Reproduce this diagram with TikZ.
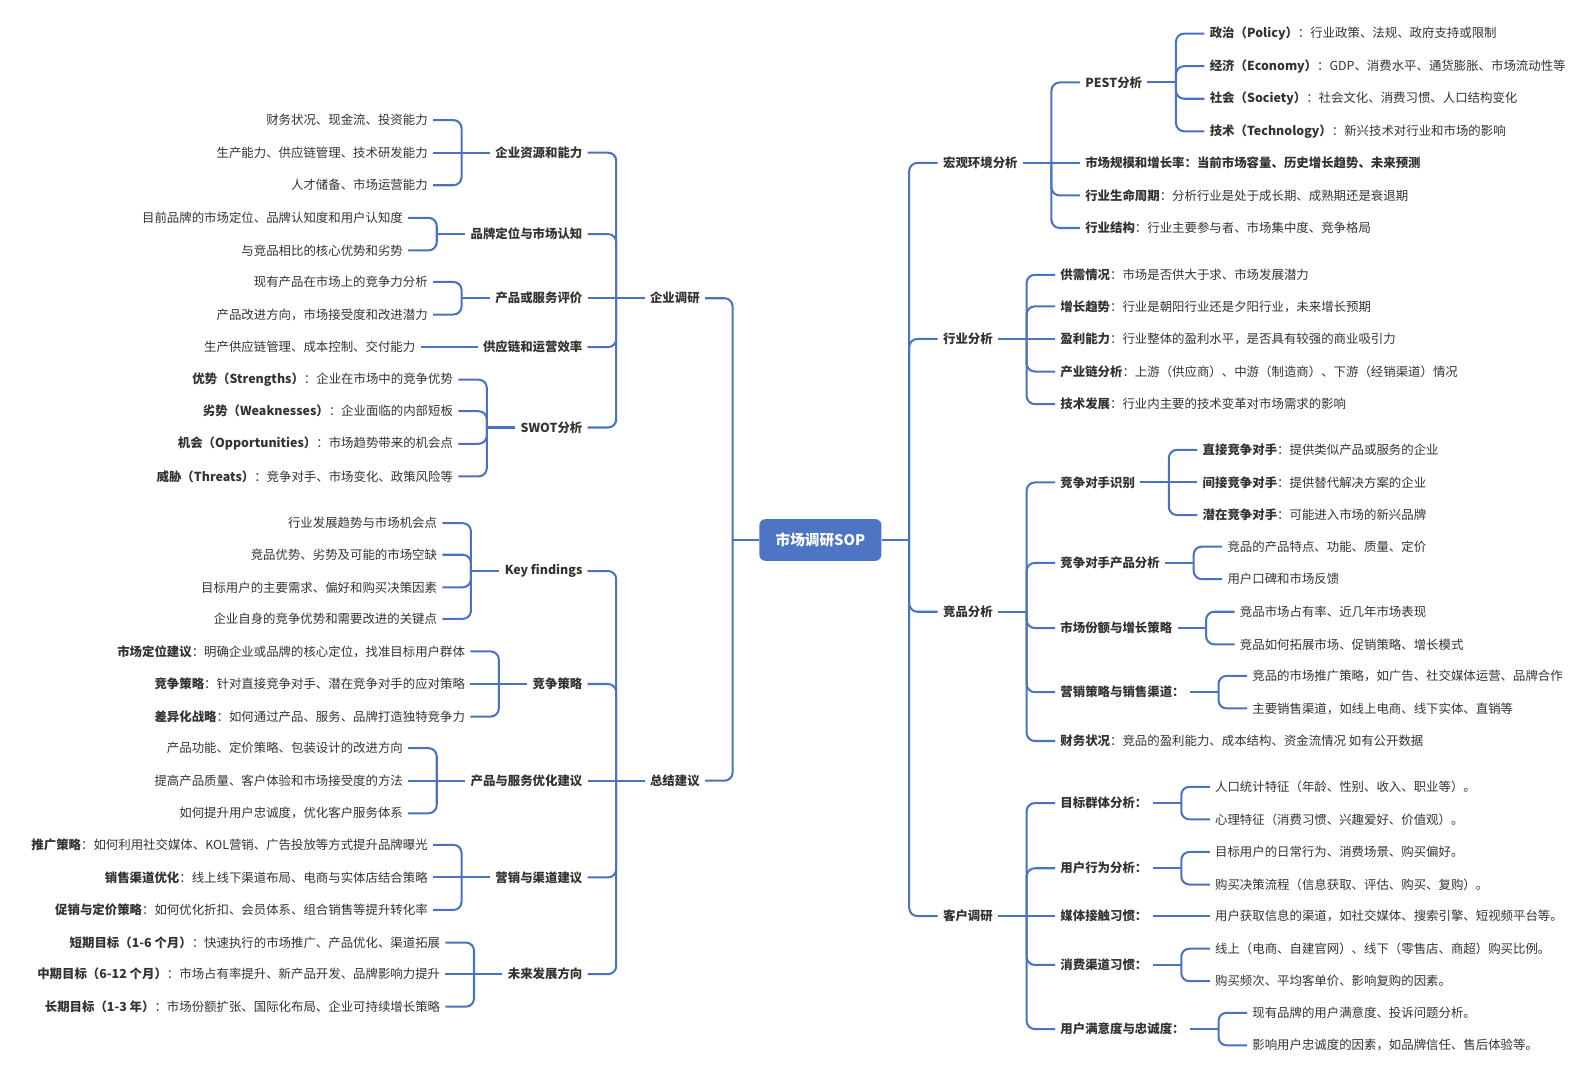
\documentclass[tikz,border=0pt]{standalone}
\usepackage{fontspec}
\setmainfont{Noto Sans CJK SC}
\definecolor{linec}{HTML}{4A72C2}
\definecolor{rootc}{HTML}{4E75C3}
\definecolor{txt}{HTML}{333333}
\newcommand\mmR[1]{\path (#1.east) ++(28,0) coordinate (#1j) ++(28,0) coordinate (#1k); \draw[conn] (#1.east) -- (#1j);}
\newcommand\mmL[1]{\path (#1.west) ++(-28,0) coordinate (#1j) ++(-28,0) coordinate (#1k); \draw[conn] (#1.west) -- (#1j);}
\newcommand\rc[5]{\node[rgt,#4] (#2) at (#1k |- 0,#3) {#5}; \draw[br] (#1j) |- (#2.west);}
\newcommand\lc[5]{\node[lft,#4] (#2) at (#1k |- 0,#3) {#5}; \draw[br] (#1j) |- (#2.east);}
\newcommand\rcs[5]{\node[rgt,#4] (#2) at (#1k |- 0,#3) {#5}; \draw[conn] (#1j) -- (#2.west);}
\newcommand\lcs[5]{\node[lft,#4] (#2) at (#1k |- 0,#3) {#5}; \draw[conn] (#1j) -- (#2.east);}
\begin{document}
\begin{tikzpicture}[x=0.75pt,y=-0.75pt,
  every node/.style={font=\fontsize{9.15pt}{11pt}\selectfont, text=txt, inner xsep=3.75pt, inner ysep=2pt},
  lft/.style={anchor=east},
  rgt/.style={anchor=west},
  hd/.style={font=\fontsize{9.15pt}{11pt}\selectfont\bfseries},
  nb/.style={},
  conn/.style={draw=linec, line width=1.5pt},
  br/.style={conn, rounded corners=6pt},
  rootbox/.style={fill=rootc, rounded corners=4.5pt, text=white, font=\fontsize{10.8pt}{13pt}\selectfont\bfseries, minimum width=90pt, minimum height=30.75pt, inner sep=0pt}
]
\useasboundingbox (0,0) rectangle (1568,1061);
\node[rootbox] (root) at (806,530.5) {市场调研SOP};

% ---------- right side ----------
\path (root.east) ++(27,0) coordinate (rootj) ++(28,0) coordinate (rootk);
\draw[conn] (root.east) -- (rootj);
\rc{root}{a}{160}{hd}{宏观环境分析}
\rc{root}{b}{333}{hd}{行业分析}
\rc{root}{c}{601}{hd}{竞品分析}
\rc{root}{d}{900}{hd}{客户调研}

\mmR{a}
\rc{a}{a1}{81}{hd}{PEST分析}
\rcs{a}{a2}{160}{hd}{市场规模和增长率：当前市场容量、历史增长趋势、未来预测}
\rc{a}{a3}{192}{nb}{{\bfseries 行业生命周期}：分析行业是处于成长期、成熟期还是衰退期}
\rc{a}{a4}{224}{nb}{{\bfseries 行业结构}：行业主要参与者、市场集中度、竞争格局}
\mmR{a1}
\rc{a1}{a11}{33}{nb}{{\bfseries 政治（Policy）}：行业政策、法规、政府支持或限制}
\rc{a1}{a12}{65}{nb}{{\bfseries 经济（Economy）}：GDP、消费水平、通货膨胀、市场流动性等}
\rc{a1}{a13}{97}{nb}{{\bfseries 社会（Society）}：社会文化、消费习惯、人口结构变化}
\rc{a1}{a14}{129}{nb}{{\bfseries 技术（Technology）}：新兴技术对行业和市场的影响}

\mmR{b}
\rc{b}{b1}{270}{nb}{{\bfseries 供需情况}：市场是否供大于求、市场发展潜力}
\rc{b}{b2}{301}{nb}{{\bfseries 增长趋势}：行业是朝阳行业还是夕阳行业，未来增长预期}
\rcs{b}{b3}{333}{nb}{{\bfseries 盈利能力}：行业整体的盈利水平，是否具有较强的商业吸引力}
\rc{b}{b4}{365}{nb}{{\bfseries 产业链分析}：上游（供应商）、中游（制造商）、下游（经销渠道）情况}
\rc{b}{b5}{397}{nb}{{\bfseries 技术发展}：行业内主要的技术变革对市场需求的影响}

\mmR{c}
\rc{c}{c1}{474}{hd}{竞争对手识别}
\rc{c}{c2}{553}{hd}{竞争对手产品分析}
\rc{c}{c3}{617}{hd}{市场份额与增长策略}
\rc{c}{c4}{680}{hd}{营销策略与销售渠道：}
\rc{c}{c5}{728}{nb}{{\bfseries 财务状况}：竞品的盈利能力、成本结构、资金流情况 如有公开数据}
\mmR{c1}
\rc{c1}{c11}{442}{nb}{{\bfseries 直接竞争对手}：提供类似产品或服务的企业}
\rcs{c1}{c12}{474}{nb}{{\bfseries 间接竞争对手}：提供替代解决方案的企业}
\rc{c1}{c13}{506}{nb}{{\bfseries 潜在竞争对手}：可能进入市场的新兴品牌}
\mmR{c2}
\rc{c2}{c21}{537}{nb}{竞品的产品特点、功能、质量、定价}
\rc{c2}{c22}{569}{nb}{用户口碑和市场反馈}
\mmR{c3}
\rc{c3}{c31}{601}{nb}{竞品市场占有率、近几年市场表现}
\rc{c3}{c32}{633}{nb}{竞品如何拓展市场、促销策略、增长模式}
\mmR{c4}
\rc{c4}{c41}{664}{nb}{竞品的市场推广策略，如广告、社交媒体运营、品牌合作}
\rc{c4}{c42}{696}{nb}{主要销售渠道，如线上电商、线下实体、直销等}

\mmR{d}
\rc{d}{d1}{789}{hd}{目标群体分析：}
\rc{d}{d2}{853}{hd}{用户行为分析：}
\rcs{d}{d3}{900}{hd}{媒体接触习惯：}
\rc{d}{d4}{948}{hd}{消费渠道习惯：}
\rc{d}{d5}{1011}{hd}{用户满意度与忠诚度：}
\mmR{d1}
\rc{d1}{d11}{773}{nb}{人口统计特征（年龄、性别、收入、职业等）。}
\rc{d1}{d12}{805}{nb}{心理特征（消费习惯、兴趣爱好、价值观）。}
\mmR{d2}
\rc{d2}{d21}{837}{nb}{目标用户的日常行为、消费场景、购买偏好。}
\rc{d2}{d22}{869}{nb}{购买决策流程（信息获取、评估、购买、复购）。}
\mmR{d3}
\rcs{d3}{d31}{900}{nb}{用户获取信息的渠道，如社交媒体、搜索引擎、短视频平台等。}
\mmR{d4}
\rc{d4}{d41}{932}{nb}{线上（电商、自建官网）、线下（零售店、商超）购买比例。}
\rc{d4}{d42}{964}{nb}{购买频次、平均客单价、影响复购的因素。}
\mmR{d5}
\rc{d5}{d51}{995}{nb}{现有品牌的用户满意度、投诉问题分析。}
\rc{d5}{d52}{1027}{nb}{影响用户忠诚度的因素，如品牌信任、售后体验等。}

% ---------- left side ----------
\path (root.west) ++(-26,0) coordinate (rootlj) ++(-27,0) coordinate (rootlk);
\draw[conn] (root.west) -- (rootlj);
\node[lft,hd] (e) at (rootlk |- 0,293) {企业调研};
\draw[br] (rootlj) |- (e.east);
\node[lft,hd] (f) at (rootlk |- 0,767) {总结建议};
\draw[br] (rootlj) |- (f.east);

\mmL{e}
\lc{e}{e1}{150}{hd}{企业资源和能力}
\lc{e}{e2}{230}{hd}{品牌定位与市场认知}
\lcs{e}{e3}{293}{hd}{产品或服务评价}
\lc{e}{e4}{341}{hd}{供应链和运营效率}
\lc{e}{e5}{420}{hd}{SWOT分析}
\mmL{e1}
\lc{e1}{e11}{118}{nb}{财务状况、现金流、投资能力}
\lcs{e1}{e12}{150}{nb}{生产能力、供应链管理、技术研发能力}
\lc{e1}{e13}{182}{nb}{人才储备、市场运营能力}
\mmL{e2}
\lc{e2}{e21}{214}{nb}{目前品牌的市场定位、品牌认知度和用户认知度}
\lc{e2}{e22}{246}{nb}{与竞品相比的核心优势和劣势}
\mmL{e3}
\lc{e3}{e31}{277}{nb}{现有产品在市场上的竞争力分析}
\lc{e3}{e32}{309}{nb}{产品改进方向，市场接受度和改进潜力}
\mmL{e4}
\lcs{e4}{e41}{341}{nb}{生产供应链管理、成本控制、交付能力}
\mmL{e5}
\lc{e5}{e51}{373}{nb}{{\bfseries 优势（Strengths）}：企业在市场中的竞争优势}
\lc{e5}{e52}{404}{nb}{{\bfseries 劣势（Weaknesses）}：企业面临的内部短板}
\lc{e5}{e53}{436}{nb}{{\bfseries 机会（Opportunities）}：市场趋势带来的机会点}
\lc{e5}{e54}{468}{nb}{{\bfseries 威胁（Threats）}：竞争对手、市场变化、政策风险等}

\mmL{f}
\lc{f}{f1}{561}{hd}{Key findings}
\lc{f}{f2}{672}{hd}{竞争策略}
\lcs{f}{f3}{767}{hd}{产品与服务优化建议}
\lc{f}{f4}{862}{hd}{营销与渠道建议}
\lc{f}{f5}{957}{hd}{未来发展方向}
\mmL{f1}
\lc{f1}{f11}{514}{nb}{行业发展趋势与市场机会点}
\lc{f1}{f12}{545}{nb}{竞品优势、劣势及可能的市场空缺}
\lc{f1}{f13}{577}{nb}{目标用户的主要需求、偏好和购买决策因素}
\lc{f1}{f14}{608}{nb}{企业自身的竞争优势和需要改进的关键点}
\mmL{f2}
\lc{f2}{f21}{640}{nb}{{\bfseries 市场定位建议}：明确企业或品牌的核心定位，找准目标用户群体}
\lcs{f2}{f22}{672}{nb}{{\bfseries 竞争策略}：针对直接竞争对手、潜在竞争对手的应对策略}
\lc{f2}{f23}{704}{nb}{{\bfseries 差异化战略}：如何通过产品、服务、品牌打造独特竞争力}
\mmL{f3}
\lc{f3}{f31}{735}{nb}{产品功能、定价策略、包装设计的改进方向}
\lcs{f3}{f32}{767}{nb}{提高产品质量、客户体验和市场接受度的方法}
\lc{f3}{f33}{799}{nb}{如何提升用户忠诚度，优化客户服务体系}
\mmL{f4}
\lc{f4}{f41}{830}{nb}{{\bfseries 推广策略}：如何利用社交媒体、KOL营销、广告投放等方式提升品牌曝光}
\lcs{f4}{f42}{862}{nb}{{\bfseries 销售渠道优化}：线上线下渠道布局、电商与实体店结合策略}
\lc{f4}{f43}{894}{nb}{{\bfseries 促销与定价策略}：如何优化折扣、会员体系、组合销售等提升转化率}
\mmL{f5}
\lc{f5}{f51}{926}{nb}{{\bfseries 短期目标（1-6 个月）}：快速执行的市场推广、产品优化、渠道拓展}
\lcs{f5}{f52}{957}{nb}{{\bfseries 中期目标（6-12 个月）}：市场占有率提升、新产品开发、品牌影响力提升}
\lc{f5}{f53}{989}{nb}{{\bfseries 长期目标（1-3 年）}：市场份额扩张、国际化布局、企业可持续增长策略}
\end{tikzpicture}
\end{document}
